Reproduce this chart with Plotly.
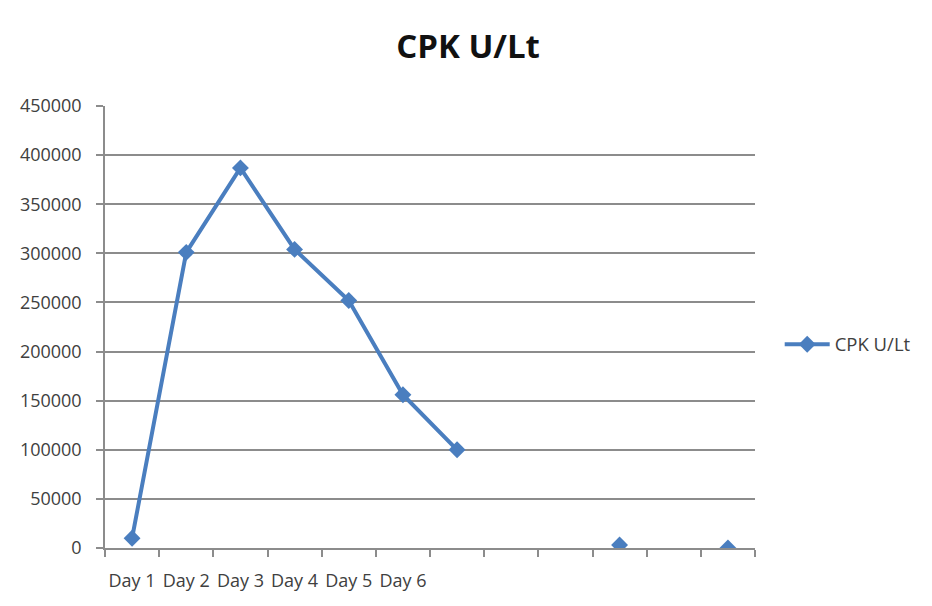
import plotly.graph_objects as go

categories = ["Day 1", "Day 2", "Day 3", "Day 4", "Day 5", "Day 6",
              "", "", "", "", "", ""]
positions = list(range(1, 13))
cpk_values = [10000, 301000, 387000, 304000, 252000, 156000, 100000,
              None, None, 3000, None, 0]
y_ticks = [0, 50000, 100000, 150000, 200000, 250000, 300000, 350000, 400000, 450000]

blue = "#4A7EBF"
grid = "#8C8C8C"
font_family = "Open Sans, Noto Sans, sans-serif"

fig = go.Figure()
fig.add_trace(go.Scatter(
    x=positions, y=cpk_values, mode="lines+markers", name="CPK U/Lt",
    line=dict(color=blue, width=4),
    marker=dict(symbol="diamond", size=13, color=blue),
    connectgaps=False,
))

fig.update_layout(
    width=932, height=606,
    margin=dict(l=97, r=185, t=98, b=66, autoexpand=False),
    paper_bgcolor="white", plot_bgcolor="white",
    title=dict(text="<b>CPK U/Lt</b>", x=0.4936, xref="container", xanchor="center",
               y=0.936, yref="container", yanchor="middle",
               font=dict(family=font_family, size=33, color="#111111")),
    font=dict(family=font_family, size=18, color="#404040"),
    showlegend=True,
    legend=dict(x=1.038, y=0.46, xanchor="left", yanchor="middle",
                itemwidth=45,
                font=dict(family=font_family, size=18.5, color="#404040"),
                bgcolor="rgba(0,0,0,0)"),
)

fig.update_xaxes(
    range=[0.5, 12.5],
    tickmode="array", tickvals=positions, ticktext=categories,
    ticks="", showgrid=False, zeroline=False,
    showline=True, linecolor=grid, linewidth=1.5,
    ticklabelstandoff=16,
    minor=dict(tickmode="linear", tick0=0.5, dtick=1, ticks="outside",
               ticklen=7, tickcolor=grid, tickwidth=1.5, showgrid=False),
    tickfont=dict(family=font_family, size=18, color="#404040"),
)

fig.update_yaxes(
    range=[0, 450000],
    tickmode="array", tickvals=y_ticks, ticktext=[str(v) for v in y_ticks],
    ticks="outside", ticklen=7, tickcolor=grid, tickwidth=1.5,
    showgrid=True, gridcolor=grid, gridwidth=1.5,
    zeroline=False, showline=True, linecolor=grid, linewidth=1.5,
    ticklabelstandoff=11,
    tickfont=dict(family=font_family, size=18, color="#404040"),
)

fig.write_html("out.html")
